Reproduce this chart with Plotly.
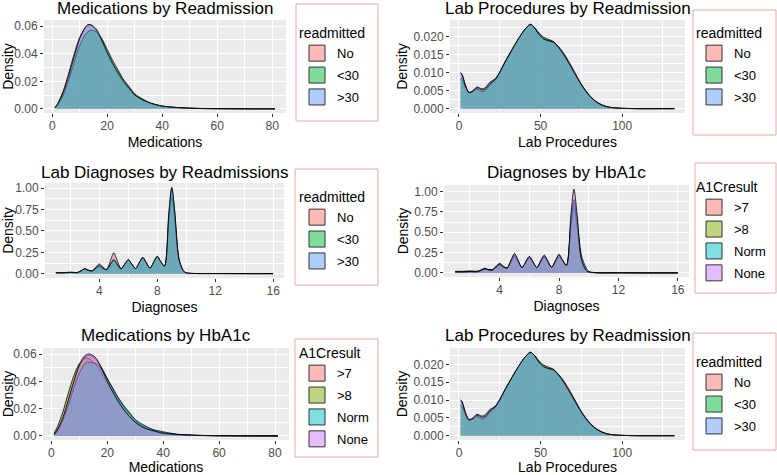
import plotly.graph_objects as go

# ---- data ----
readm_groups = ["No", "<30", ">30"]
a1c_groups = [">7", ">8", "Norm", "None"]

x_med = [1, 2, 4, 6, 8, 10, 12, 13, 14, 16, 18, 20, 22, 24, 26, 28, 30, 33, 36, 40, 45, 50, 55, 60, 70, 81]
no_med = [0.001, 0.004, 0.013, 0.026, 0.040, 0.052, 0.059, 0.061, 0.061, 0.057, 0.049, 0.040, 0.032, 0.025, 0.019, 0.014, 0.010, 0.006, 0.004, 0.002, 0.001, 0.0005, 0.0003, 0.0002, 0.0001, 0.0]
lt30_med = [0.0008, 0.003, 0.010, 0.021, 0.034, 0.046, 0.054, 0.056, 0.057, 0.056, 0.051, 0.043, 0.035, 0.028, 0.021, 0.016, 0.011, 0.007, 0.004, 0.002, 0.001, 0.0005, 0.0002, 0.0001, 0.0, 0.0]
gt30_med = [0.001, 0.0035, 0.012, 0.024, 0.038, 0.051, 0.059, 0.061, 0.061, 0.058, 0.050, 0.041, 0.033, 0.026, 0.020, 0.015, 0.010, 0.0065, 0.004, 0.002, 0.001, 0.0005, 0.0002, 0.0001, 0.0, 0.0]

gt7_med = [0.001, 0.004, 0.012, 0.025, 0.039, 0.051, 0.058, 0.059, 0.059, 0.056, 0.050, 0.042, 0.034, 0.027, 0.021, 0.016, 0.011, 0.007, 0.004, 0.002, 0.001, 0.0005, 0.0003, 0.0002, 0.0001, 0.0]
gt8_med = [0.002, 0.006, 0.017, 0.031, 0.044, 0.053, 0.057, 0.057, 0.056, 0.052, 0.046, 0.039, 0.032, 0.025, 0.019, 0.014, 0.010, 0.006, 0.004, 0.002, 0.001, 0.0005, 0.0002, 0.0001, 0.0, 0.0]
norm_med = [0.001, 0.003, 0.011, 0.022, 0.035, 0.046, 0.053, 0.054, 0.054, 0.053, 0.049, 0.042, 0.035, 0.028, 0.022, 0.017, 0.012, 0.008, 0.005, 0.003, 0.0013, 0.0006, 0.0003, 0.0001, 0.0, 0.0]
none_med = [0.001, 0.004, 0.013, 0.026, 0.040, 0.052, 0.059, 0.060, 0.060, 0.057, 0.049, 0.040, 0.032, 0.025, 0.019, 0.014, 0.010, 0.006, 0.004, 0.002, 0.001, 0.0005, 0.0003, 0.0002, 0.0001, 0.0]

x_lab = [1, 2, 4, 6, 8, 11, 14, 16, 19, 22, 25, 28, 31, 34, 37, 40, 43, 44, 46, 49, 52, 55, 58, 61, 64, 67, 70, 73, 76, 80, 84, 88, 92, 96, 100, 110, 120, 132]
no_lab = [0.010, 0.0095, 0.0065, 0.0046, 0.0048, 0.0060, 0.0055, 0.0058, 0.0074, 0.0082, 0.0102, 0.0128, 0.0152, 0.0175, 0.0197, 0.0217, 0.0233, 0.0234, 0.0226, 0.0207, 0.0194, 0.0189, 0.0185, 0.0172, 0.0155, 0.0133, 0.0109, 0.0084, 0.0061, 0.0037, 0.0020, 0.0010, 0.0004, 0.0002, 0.0001, 0.0, 0.0, 0.0]
lt30_lab = [0.0085, 0.008, 0.006, 0.0044, 0.0046, 0.0054, 0.0047, 0.0050, 0.0066, 0.0078, 0.0100, 0.0127, 0.0152, 0.0176, 0.0198, 0.0218, 0.0232, 0.0233, 0.0227, 0.0210, 0.0198, 0.0192, 0.0186, 0.0170, 0.0150, 0.0128, 0.0104, 0.0080, 0.0058, 0.0035, 0.0019, 0.0009, 0.0004, 0.0002, 0.0001, 0.0, 0.0, 0.0]
gt30_lab = [0.0100, 0.0092, 0.0063, 0.0045, 0.0047, 0.0058, 0.0052, 0.0054, 0.0070, 0.0080, 0.0101, 0.0127, 0.0151, 0.0175, 0.0198, 0.0218, 0.0232, 0.0234, 0.0226, 0.0206, 0.0193, 0.0188, 0.0184, 0.0170, 0.0152, 0.0130, 0.0106, 0.0082, 0.0060, 0.0036, 0.0019, 0.0009, 0.0004, 0.0002, 0.0001, 0.0, 0.0, 0.0]

x_diag = [1, 1.5, 2, 2.5, 2.8, 3, 3.2, 3.5, 3.8, 4, 4.2, 4.5, 4.8, 5, 5.2, 5.5, 5.8, 6, 6.2, 6.5, 6.8, 7, 7.2, 7.5, 7.8, 8, 8.2, 8.5, 8.8, 9, 9.2, 9.5, 9.8, 10, 10.5, 12, 14, 16]
no_diag = [0.012, 0.012, 0.018, 0.015, 0.042, 0.060, 0.045, 0.035, 0.085, 0.115, 0.085, 0.050, 0.170, 0.245, 0.170, 0.060, 0.120, 0.160, 0.120, 0.060, 0.140, 0.190, 0.140, 0.065, 0.150, 0.200, 0.150, 0.085, 0.620, 0.890, 0.650, 0.160, 0.035, 0.010, 0.003, 0.002, 0.001, 0.001]
lt30_diag = [0.010, 0.010, 0.015, 0.013, 0.038, 0.055, 0.040, 0.032, 0.065, 0.085, 0.065, 0.045, 0.115, 0.160, 0.115, 0.055, 0.120, 0.160, 0.120, 0.060, 0.140, 0.185, 0.140, 0.065, 0.150, 0.200, 0.150, 0.088, 0.700, 1.000, 0.730, 0.170, 0.035, 0.010, 0.003, 0.002, 0.001, 0.001]
gt30_diag = [0.011, 0.011, 0.016, 0.014, 0.040, 0.058, 0.042, 0.033, 0.072, 0.100, 0.072, 0.047, 0.120, 0.165, 0.120, 0.056, 0.125, 0.168, 0.125, 0.061, 0.143, 0.190, 0.143, 0.066, 0.155, 0.205, 0.155, 0.090, 0.710, 1.010, 0.740, 0.172, 0.035, 0.010, 0.003, 0.002, 0.001, 0.001]

gt7_diag = [0.012, 0.012, 0.016, 0.015, 0.035, 0.050, 0.040, 0.035, 0.075, 0.100, 0.075, 0.060, 0.160, 0.220, 0.160, 0.065, 0.145, 0.200, 0.145, 0.065, 0.155, 0.210, 0.155, 0.068, 0.160, 0.215, 0.160, 0.090, 0.600, 0.850, 0.620, 0.160, 0.035, 0.010, 0.003, 0.002, 0.001, 0.001]
gt8_diag = [0.020, 0.020, 0.025, 0.022, 0.042, 0.060, 0.045, 0.040, 0.090, 0.120, 0.090, 0.060, 0.145, 0.200, 0.145, 0.065, 0.140, 0.190, 0.140, 0.065, 0.148, 0.200, 0.148, 0.066, 0.150, 0.200, 0.150, 0.088, 0.560, 0.800, 0.590, 0.170, 0.040, 0.012, 0.003, 0.002, 0.001, 0.001]
norm_diag = [0.012, 0.012, 0.016, 0.015, 0.035, 0.050, 0.040, 0.035, 0.075, 0.100, 0.075, 0.060, 0.160, 0.220, 0.160, 0.065, 0.140, 0.190, 0.140, 0.065, 0.148, 0.200, 0.148, 0.070, 0.165, 0.225, 0.165, 0.095, 0.640, 0.900, 0.680, 0.220, 0.070, 0.020, 0.003, 0.002, 0.001, 0.001]
none_diag = [0.012, 0.012, 0.016, 0.015, 0.035, 0.050, 0.040, 0.035, 0.082, 0.110, 0.082, 0.060, 0.175, 0.240, 0.175, 0.068, 0.155, 0.205, 0.155, 0.068, 0.163, 0.220, 0.163, 0.070, 0.168, 0.228, 0.168, 0.095, 0.720, 1.030, 0.750, 0.170, 0.035, 0.010, 0.003, 0.002, 0.001, 0.001]

readm_colors = ["rgba(248,118,109,0.5)", "rgba(0,186,56,0.5)", "rgba(97,156,255,0.5)"]
a1c_colors = ["rgba(248,118,109,0.5)", "rgba(124,174,0,0.5)", "rgba(0,191,196,0.5)", "rgba(199,124,255,0.5)"]

W, H = 777, 475
FONT = "Liberation Sans, Arial, sans-serif"


def px(x):
    return x / W


def py(y):
    return 1 - y / H


# boxes in pixels: plot area (x0, y0, x1, y1), title centre y, legend frame, legend anchor (x, top)
panels = [
    dict(title="Medications by Readmission", xlab="Medications", x=x_med,
         ys=[no_med, lt30_med, gt30_med], groups=readm_groups, colors=readm_colors, ltitle="readmitted",
         box=(44, 20, 286, 113), ty=9, xr=[-3, 85], xd=20, yr=[-0.003, 0.0645], yd=0.02, yf=".2f",
         lbox=(296, 4, 378, 121), lpos=(297, 20)),
    dict(title="Lab Procedures by Readmission", xlab="Lab Procedures", x=x_lab,
         ys=[no_lab, lt30_lab, gt30_lab], groups=readm_groups, colors=readm_colors, ltitle="readmitted",
         box=(450, 20, 685, 113), ty=9, xr=[-5.5, 138.5], xd=50, yr=[-0.0012, 0.0246], yd=0.005, yf=".3f",
         lbox=(693, 10, 776, 135), lpos=(694, 20)),
    dict(title="Lab Diagnoses by Readmissions", xlab="Diagnoses", x=x_diag,
         ys=[no_diag, lt30_diag, gt30_diag], groups=readm_groups, colors=readm_colors, ltitle="readmitted",
         box=(45, 183, 284, 278), ty=172, xr=[0.25, 16.75], xd=4, yr=[-0.05, 1.06], yd=0.25, yf=".2f",
         lbox=(295, 169, 378, 285), lpos=(297, 184)),
    dict(title="Diagnoses by HbA1c", xlab="Diagnoses", x=x_diag,
         ys=[gt7_diag, gt8_diag, norm_diag, none_diag], groups=a1c_groups, colors=a1c_colors, ltitle="A1Cresult",
         box=(444, 185, 689, 277), ty=172, xr=[0.25, 16.75], xd=4, yr=[-0.05, 1.08], yd=0.25, yf=".2f",
         lbox=(695, 163, 776, 293), lpos=(694, 174)),
    dict(title="Medications by HbA1c", xlab="Medications", x=x_med,
         ys=[gt7_med, gt8_med, norm_med, none_med], groups=a1c_groups, colors=a1c_colors, ltitle="A1Cresult",
         box=(43, 348, 289, 440), ty=335, xr=[-3, 85], xd=20, yr=[-0.003, 0.0645], yd=0.02, yf=".2f",
         lbox=(295, 339, 378, 457), lpos=(297, 340)),
    dict(title="Lab Procedures by Readmission", xlab="Lab Procedures", x=x_lab,
         ys=[no_lab, lt30_lab, gt30_lab], groups=readm_groups, colors=readm_colors, ltitle="readmitted",
         box=(450, 348, 685, 440), ty=335, xr=[-5.5, 138.5], xd=50, yr=[-0.0012, 0.0246], yd=0.005, yf=".3f",
         lbox=(693, 333, 776, 450), lpos=(694, 349)),
]

fig = go.Figure()
shapes = []
annotations = []
layout = {}
tickfont = dict(family=FONT, size=12, color="#4D4D4D")
titlefont = dict(family=FONT, size=14, color="black")

for i, p in enumerate(panels):
    n = i + 1
    sfx = "" if n == 1 else str(n)
    xa, ya = "x" + sfx, "y" + sfx
    leg = "legend" + sfx
    x0, y0, x1, y1 = p["box"]

    for g, c, yv in zip(p["groups"], p["colors"], p["ys"]):
        fig.add_trace(go.Scatter(x=p["x"], y=yv, mode="lines", fill="tozeroy", fillcolor=c,
                                 line=dict(color="black", width=0.8, shape="spline", smoothing=0.8),
                                 xaxis=xa, yaxis=ya, showlegend=False, hoverinfo="skip"))
    # legend-only keys
    for g, c in zip(p["groups"], p["colors"]):
        fig.add_trace(go.Scatter(x=[None], y=[None], mode="markers", name=g,
                                 legendgroup=leg + g,
                                 marker=dict(symbol="square", size=16, color=c,
                                             line=dict(color="#333333", width=1)),
                                 xaxis=xa, yaxis=ya, legend=leg, showlegend=True))

    layout["xaxis" + sfx] = dict(
        domain=[px(x0), px(x1)], anchor=ya, range=p["xr"], tick0=0, dtick=p["xd"],
        showgrid=True, gridcolor="white", gridwidth=1.2, zeroline=False,
        minor=dict(dtick=p["xd"] / 2, showgrid=True, gridcolor="white", gridwidth=0.5),
        ticks="outside", ticklen=3, tickcolor="#333333", tickfont=tickfont, ticklabelstandoff=-1,
        title=dict(text=p["xlab"], font=titlefont, standoff=4))
    layout["yaxis" + sfx] = dict(
        domain=[py(y1), py(y0)], anchor=xa, range=p["yr"], tick0=0, dtick=p["yd"], tickformat=p["yf"],
        showgrid=True, gridcolor="white", gridwidth=1.2, zeroline=False,
        minor=dict(dtick=p["yd"] / 2, showgrid=True, gridcolor="white", gridwidth=0.5),
        ticks="outside", ticklen=3, tickcolor="#333333", tickfont=tickfont,
        title=dict(text="Density", font=titlefont, standoff=2))

    lx0, ly0, lx1, ly1 = p["lbox"]
    lx, ltop = p["lpos"]
    layout[leg] = dict(
        x=px(lx), y=py(ltop), xanchor="left", yanchor="top",
        bgcolor="rgba(0,0,0,0)", borderwidth=0, tracegroupgap=2,
        title=dict(text=p["ltitle"], font=dict(family=FONT, size=14, color="black")),
        font=dict(family=FONT, size=13, color="black"),
        itemclick=False)
    shapes.append(dict(type="rect", xref="paper", yref="paper",
                       x0=px(lx0), x1=px(lx1), y0=py(ly1), y1=py(ly0),
                       line=dict(color="#E6A8A8", width=1)))
    annotations.append(dict(text=p["title"], xref="paper", yref="paper",
                            x=px((x0 + x1) / 2), y=py(p["ty"]), xanchor="center", yanchor="middle",
                            showarrow=False, font=dict(family=FONT, size=17, color="black")))

fig.update_layout(**layout)
fig.update_layout(width=W, height=H, margin=dict(l=0, r=0, t=0, b=0, autoexpand=False),
                  paper_bgcolor="white", plot_bgcolor="#EBEBEB",
                  shapes=shapes, annotations=annotations)

# drop the default 8px page margin so the figure fills the window
fig.write_html("out.html", config={"displayModeBar": False},
               post_script="document.body.style.margin='0';")
